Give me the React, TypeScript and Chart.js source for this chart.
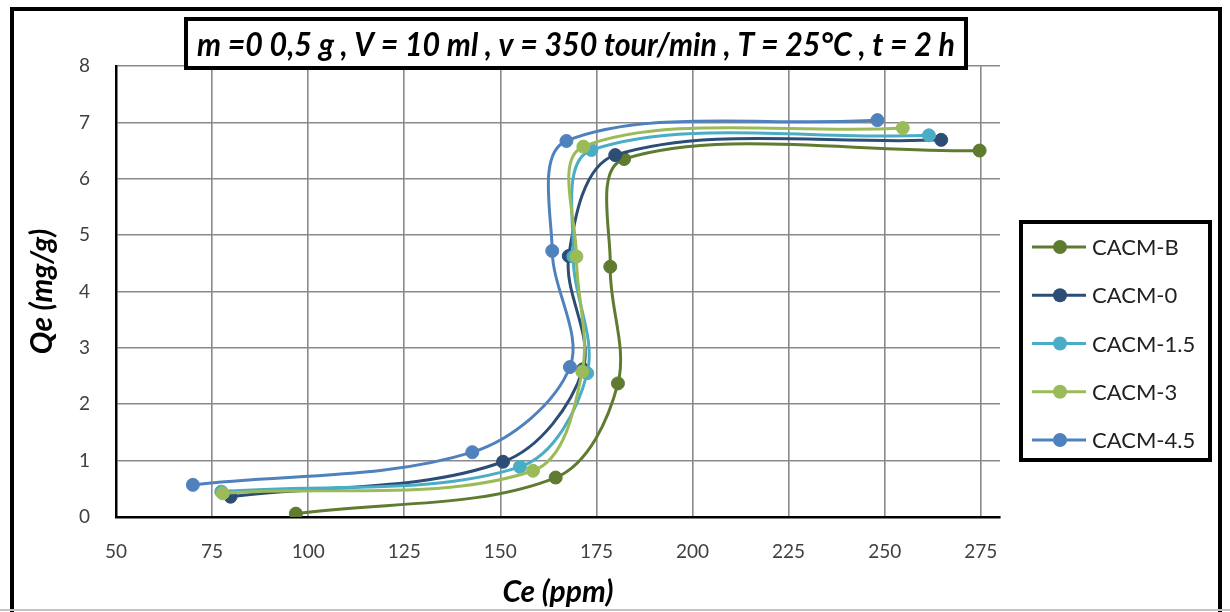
import React, { useEffect, useRef } from "react";
import { Chart, registerables } from "chart.js";

Chart.register(...registerables);

// ---- data ----
const seriesNames = ["CACM-B", "CACM-0", "CACM-1.5", "CACM-3", "CACM-4.5"];

const ceB = [96.8, 164.4, 180.6, 178.6, 182.2, 274.7];
const qeB = [0.06, 0.7, 2.37, 4.44, 6.35, 6.5];

const ce0 = [79.8, 150.7, 171.5, 167.8, 179.9, 264.7];
const qe0 = [0.36, 0.98, 2.62, 4.63, 6.42, 6.69];

const ce15 = [77.4, 155.1, 172.6, 169.0, 173.7, 261.5];
const qe15 = [0.45, 0.89, 2.55, 4.62, 6.51, 6.77];

const ce3 = [77.8, 158.5, 171.3, 169.8, 171.6, 254.7];
const qe3 = [0.42, 0.82, 2.58, 4.62, 6.57, 6.9];

const ce45 = [70.0, 142.7, 168.1, 163.5, 167.2, 248.1];
const qe45 = [0.57, 1.15, 2.66, 4.72, 6.67, 7.04];

const xTicks = [50, 75, 100, 125, 150, 175, 200, 225, 250, 275];
const yTicks = [0, 1, 2, 3, 4, 5, 6, 7, 8];

const chartTitle = "m =0 0,5 g , V = 10 ml , v = 350 tour/min , T = 25°C , t = 2 h";
const xTitle = "Ce (ppm)";
const yTitle = "Qe (mg/g)";

const seriesColors = ["#5E7B2F", "#2C4D75", "#4BACC6", "#9BBB59", "#4F81BD"];

const seriesX = [ceB, ce0, ce15, ce3, ce45];
const seriesY = [qeB, qe0, qe15, qe3, qe45];

// ---- decorations: outer frame, title box, legend box ----
const decorPlugin = {
  id: "decor",
  afterDraw(chart: any) {
    const ctx: CanvasRenderingContext2D = chart.ctx;
    ctx.save();

    // outer frame
    ctx.strokeStyle = "#000";
    ctx.lineWidth = 4;
    ctx.beginPath();
    ctx.moveTo(12, 612);
    ctx.lineTo(12, 9);
    ctx.lineTo(1220, 9);
    ctx.lineTo(1220, 612);
    ctx.stroke();
    ctx.strokeStyle = "#c4c4c4";
    ctx.lineWidth = 2;
    ctx.beginPath();
    ctx.moveTo(0, 610);
    ctx.lineTo(1230, 610);
    ctx.stroke();

    // title box
    ctx.fillStyle = "#fff";
    ctx.fillRect(186, 19, 780, 49);
    ctx.strokeStyle = "#000";
    ctx.lineWidth = 4;
    ctx.strokeRect(186, 19, 780, 49);

    ctx.font = "italic bold 32px Lato";
    const tw = ctx.measureText(chartTitle).width;
    const sx = Math.min(1, 758 / tw);
    ctx.save();
    ctx.translate(576, 56);
    ctx.scale(sx, 1);
    ctx.fillStyle = "#000";
    ctx.textAlign = "center";
    ctx.textBaseline = "alphabetic";
    ctx.fillText(chartTitle, 0, 0);
    ctx.restore();

    // legend box
    ctx.fillStyle = "#fff";
    ctx.fillRect(1021, 222, 189, 238);
    ctx.strokeStyle = "#000";
    ctx.lineWidth = 4;
    ctx.strokeRect(1021, 222, 189, 238);

    ctx.font = "22px Lato";
    const lw = ctx.measureText("CACM-1.5").width;
    const lsx = Math.min(1, 107 / lw);
    chart.data.datasets.forEach((ds: any, i: number) => {
      const y = 247 + i * 48.25;
      ctx.strokeStyle = ds.borderColor;
      ctx.lineWidth = 3;
      ctx.beginPath();
      ctx.moveTo(1032, y);
      ctx.lineTo(1086, y);
      ctx.stroke();
      ctx.fillStyle = ds.backgroundColor;
      ctx.beginPath();
      ctx.arc(1060, y, 7, 0, Math.PI * 2);
      ctx.fill();
      ctx.save();
      ctx.translate(1092, y + 8);
      ctx.scale(lsx, 1);
      ctx.fillStyle = "#222";
      ctx.textAlign = "left";
      ctx.textBaseline = "alphabetic";
      ctx.fillText(ds.label, 0, 0);
      ctx.restore();
    });

    ctx.restore();
  },
};

export default function App() {
  const canvasRef = useRef<HTMLCanvasElement | null>(null);

  useEffect(() => {
    const canvas = canvasRef.current;
    if (!canvas) return;

    const datasets = seriesNames.map((name, i) => ({
      label: name,
      data: seriesX[i].map((x, j) => ({ x, y: seriesY[i][j] })),
      borderColor: seriesColors[i],
      backgroundColor: seriesColors[i],
      pointBackgroundColor: seriesColors[i],
      pointBorderColor: seriesColors[i],
      pointRadius: 6.5,
      pointBorderWidth: 1,
      borderWidth: 3,
      showLine: true,
      tension: 0.34,
      fill: false,
      order: seriesNames.length - 1 - i,
    }));

    const chart = new Chart(canvas, {
      type: "scatter",
      data: { datasets },
      options: {
        animation: false,
        responsive: false,
        maintainAspectRatio: false,
        devicePixelRatio: 1,
        layout: { padding: { left: 14, top: 66, right: 230, bottom: 0 } },
        plugins: {
          legend: { display: false },
          title: { display: false },
          tooltip: { enabled: false },
        },
        scales: {
          x: {
            type: "linear",
            min: 50,
            max: 280,
            afterBuildTicks: (s: any) => {
              s.ticks = xTicks.map((v) => ({ value: v }));
            },
            afterFit: (s: any) => {
              s.height = 95;
            },
            grid: { color: "#8a8a8a", lineWidth: 1.6, drawTicks: false },
            border: { color: "#000", width: 2.5 },
            ticks: {
              padding: 23,
              color: "#404040",
              font: { family: "Lato", size: 19 },
              maxRotation: 0,
              autoSkip: false,
            },
            title: {
              display: true,
              text: xTitle,
              color: "#000",
              font: { family: "Lato", size: 30, weight: "bold", style: "italic" },
              padding: { top: 0, bottom: 2 },
            },
          },
          y: {
            type: "linear",
            min: 0,
            max: 8,
            afterBuildTicks: (s: any) => {
              s.ticks = yTicks.map((v) => ({ value: v }));
            },
            afterFit: (s: any) => {
              s.width = 102;
            },
            grid: { color: "#8a8a8a", lineWidth: 1.6, drawTicks: false },
            border: { color: "#000", width: 2.5 },
            ticks: {
              padding: 26,
              color: "#404040",
              font: { family: "Lato", size: 19 },
            },
            title: {
              display: true,
              text: yTitle,
              color: "#000",
              font: { family: "Lato", size: 30, weight: "bold", style: "italic" },
              padding: { top: 10, bottom: 0 },
            },
          },
        },
      },
      plugins: [decorPlugin],
    } as any);

    return () => chart.destroy();
  }, []);

  return (
    <div
      style={{
        position: "fixed",
        left: 0,
        top: 0,
        width: 1230,
        height: 612,
        background: "#fff",
      }}
    >
      <canvas ref={canvasRef} width={1230} height={612} style={{ width: 1230, height: 612, display: "block" }} />
    </div>
  );
}
